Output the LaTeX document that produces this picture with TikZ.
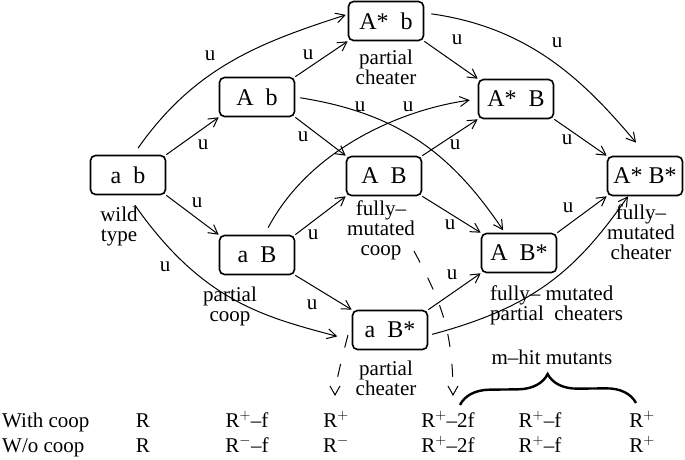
\documentclass[tikz,border=0pt]{standalone}
\usepackage{fontspec}
\setmainfont{Liberation Serif}
\usetikzlibrary{arrows.meta,decorations.pathreplacing}
\begin{document}
\begin{tikzpicture}[x=1pt,y=1pt,
  geno/.style={draw, rounded corners=5pt, line width=1.6pt, minimum width=75pt, minimum height=39pt, font=\fontsize{24}{24}\selectfont},
  note/.style={align=center, font=\fontsize{21}{20}\selectfont},
  rate/.style={font=\fontsize{21}{21}\selectfont},
  cell/.style={anchor=base, font=\fontsize{21}{21}\selectfont},
  mut/.style={line width=1pt, -{Straight Barb[length=9pt,width=10pt]}},
  fate/.style={mut, dash pattern=on 13pt off 17pt}]
\tikzstyle{every node}+=[inner sep=0pt]
\useasboundingbox (0,0) rectangle (685,-460);
\node[geno] (ab) at (128,-175) {a~~b};
\node[geno] (Ab) at (257,-97) {A~~b};
\node[geno] (aB) at (257,-255) {a~~B};
\node[geno] (Astb) at (386,-21) {A*~~b};
\node[geno] (AB) at (384,-176) {A~~B};
\node[geno] (AstB) at (516,-99) {A*~~B};
\node[geno] (aBst) at (390,-330) {a~~B*};
\node[geno] (ABst) at (519,-253) {A~~B*};
\node[geno] (AstBst) at (645,-176) {A*~B*};
\node[note] (wild) at (119,-226) {wild\\type};
\node[note] (pcoop) at (230,-306) {partial\\coop};
\node[note] (pchtop) at (386,-67) {partial\\cheater};
\node[note] (fmcoop) at (381,-230) {fully–\\mutated\\coop};
\node[note] (fmcheat) at (641,-232) {fully–\\mutated\\cheater};
\node[note, align=left, anchor=west] (fmpart) at (490,-305) {fully– mutated\\partial~~cheaters};
\node[note] (pchbot) at (386,-378) {partial\\cheater};
\node[note] (mhit) at (552,-357) {m–hit mutants};
\node[rate] (u1) at (210,-56) {u};
\node[rate] (u2) at (203,-145) {u};
\node[rate] (u3) at (197,-203) {u};
\node[rate] (u4) at (165,-267) {u};
\node[rate] (u5) at (308,-55) {u};
\node[rate] (u6) at (303,-137) {u};
\node[rate] (u7) at (360,-107) {u};
\node[rate] (u8) at (408,-107) {u};
\node[rate] (u9) at (313,-235) {u};
\node[rate] (u10) at (312,-305) {u};
\node[rate] (u11) at (457,-40) {u};
\node[rate] (u12) at (557,-43) {u};
\node[rate] (u13) at (455,-145) {u};
\node[rate] (u14) at (450,-225) {u};
\node[rate] (u15) at (567,-140) {u};
\node[rate] (u16) at (568,-208) {u};
\node[rate] (u17) at (452,-275) {u};
\draw[mut, shorten <=8pt, shorten >=2pt] (ab.75) .. controls +(55:108) and +(198:90) .. (Astb.170);
\draw[mut] (ab.north east) -- (Ab.south west);
\draw[mut] (ab.south east) -- (aB.north west);
\draw[mut, shorten <=12pt, shorten >=15pt] (ab.south) .. controls +(-55:130) and +(165:90) .. (aBst.195);
\draw[mut] (Ab.north east) -- (Astb.south west);
\draw[mut] (Ab.south east) -- (AB.north west);
\draw[mut, shorten <=5pt, shorten >=3pt] (Ab.east) .. controls +(-9:105) and +(124:95) .. (ABst.125);
\draw[mut, shorten <=8pt, shorten >=8pt] (aB.70) .. controls +(62:97) and +(188:78) .. (AstB.west);
\draw[mut] (aB.north east) -- (AB.south west);
\draw[mut] (aB.south east) -- (aBst.north west);
\draw[mut] (Astb.south east) -- (AstB.north west);
\draw[mut, shorten <=7pt, shorten >=17pt] (Astb.12) .. controls +(-8:105) and +(130:100) .. ([xshift=2pt]AstBst.north);
\draw[mut] (AB.north east) -- (AstB.south west);
\draw[mut] (AB.south east) -- (ABst.north west);
\draw[mut] (AstB.south east) -- (AstBst.north west);
\draw[mut] (ABst.north east) -- (AstBst.south west);
\draw[mut] (aBst.north east) -- (ABst.south west);
\draw[mut, shorten <=4pt] (aBst.-8) .. controls +(15:110) and +(235:90) .. ([xshift=-17pt]AstBst.south);
\node[cell, anchor=base west] (wc) at (2,-427) {With coop};
\node[cell] (wc1) at (143,-427) {R};
\node[cell] (wc2) at (247,-427) {R$^+$–f};
\node[cell] (wc3) at (336,-427) {R$^+$};
\node[cell] (wc4) at (448,-427) {R$^+$–2f};
\node[cell] (wc5) at (540,-427) {R$^+$–f};
\node[cell] (wc6) at (642,-427) {R$^+$};
\node[cell, anchor=base west] (nc) at (2,-452) {W/o coop};
\node[cell] (nc1) at (143,-452) {R};
\node[cell] (nc2) at (247,-452) {R$^-$–f};
\node[cell] (nc3) at (336,-452) {R$^-$};
\node[cell] (nc4) at (448,-452) {R$^+$–2f};
\node[cell] (nc5) at (540,-452) {R$^+$–f};
\node[cell] (nc6) at (642,-452) {R$^+$};
\coordinate (hitA) at (348,-335);
\coordinate (hitB) at (414,-251);
\draw[fate, shorten >=15pt] (hitA) .. controls +(-105:25) and +(90:25) .. ([xshift=-1pt]wc3.north);
\draw[fate, shorten >=15pt] (hitB) .. controls +(-62:57) and +(90:81) .. ([xshift=5pt]wc4.north);
\draw[line width=2.4pt, decorate, decoration={brace, amplitude=30pt}] (460,-405) -- (636,-403);
\end{tikzpicture}
\end{document}
